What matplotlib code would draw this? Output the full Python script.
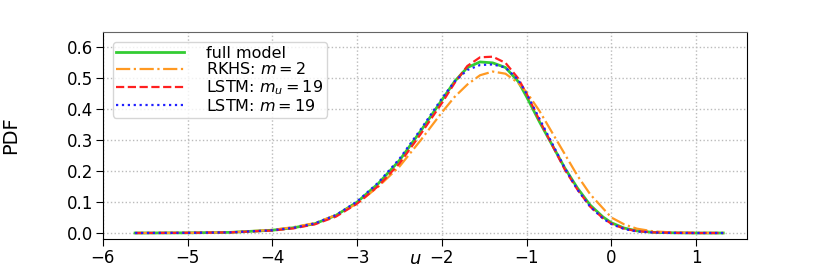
import numpy as np
import matplotlib.pyplot as plt

# grid of u values
u = [-5.62, -5.0, -4.5, -4.0, -3.75, -3.5, -3.25, -3.0, -2.75, -2.5, -2.25,
     -2.0, -1.85, -1.7, -1.55, -1.4, -1.25, -1.1, -1.0, -0.85, -0.7, -0.55,
     -0.4, -0.25, -0.1, 0.0, 0.15, 0.3, 0.5, 0.75, 1.0, 1.32]

pdf_full = [0.0, 0.0005, 0.002, 0.009, 0.017, 0.030, 0.057, 0.100, 0.160, 0.235, 0.330,
            0.430, 0.490, 0.535, 0.553, 0.550, 0.535, 0.490, 0.440, 0.360, 0.285, 0.210,
            0.145, 0.090, 0.052, 0.033, 0.016, 0.007, 0.002, 0.0005, 0.0, 0.0]

pdf_rkhs = [0.0, 0.0005, 0.002, 0.010, 0.019, 0.032, 0.058, 0.095, 0.150, 0.215, 0.300,
            0.390, 0.440, 0.480, 0.510, 0.522, 0.515, 0.485, 0.455, 0.395, 0.325, 0.255,
            0.185, 0.125, 0.080, 0.050, 0.028, 0.014, 0.005, 0.0015, 0.0005, 0.0]

pdf_lstm_mu = [0.0, 0.0005, 0.002, 0.008, 0.015, 0.028, 0.053, 0.095, 0.152, 0.225, 0.320,
               0.420, 0.485, 0.540, 0.568, 0.570, 0.550, 0.500, 0.450, 0.365, 0.285, 0.205,
               0.140, 0.085, 0.048, 0.030, 0.014, 0.006, 0.002, 0.0005, 0.0, 0.0]

pdf_lstm_m = [0.0, 0.0005, 0.002, 0.009, 0.017, 0.031, 0.058, 0.102, 0.163, 0.240, 0.335,
              0.435, 0.490, 0.527, 0.543, 0.545, 0.535, 0.495, 0.450, 0.370, 0.290, 0.210,
              0.140, 0.085, 0.047, 0.029, 0.013, 0.005, 0.0015, 0.0003, 0.0, 0.0]

fig = plt.figure(figsize=(8.3, 2.73), dpi=100)
ax = fig.add_axes([0.124, 0.125, 0.776, 0.758])

ax.plot(u, pdf_full, color="#33cc33", lw=2.0, label="full model")
ax.plot(u, pdf_rkhs, color="#ff9922", lw=1.6, ls="-.", label="RKHS: $m = 2$")
ax.plot(u, pdf_lstm_mu, color="#ff2020", lw=1.6, ls="--", label="LSTM: $m_u = 19$")
ax.plot(u, pdf_lstm_m, color="#2020ff", lw=1.6, ls=":", label="LSTM: $m = 19$")

ax.set_xlim(-6, 1.6)
ax.set_ylim(-0.019, 0.65)
ax.set_xticks([-6, -5, -4, -3, -2, -1, 0, 1])
ax.set_yticks([0.0, 0.1, 0.2, 0.3, 0.4, 0.5, 0.6])
ax.grid(True, ls=":", color="#bbbbbb", lw=1.0)
ax.tick_params(labelsize=12, length=5, pad=2)
ax.set_xlabel("$u$", fontsize=13)
ax.xaxis.set_label_coords(0.485, -0.055)
ax.set_ylabel("PDF", fontsize=14)
ax.yaxis.set_label_coords(-0.128, 0.5)
ax.spines["top"].set_color("#666666")

ax.legend(loc="upper left", fontsize=11.5, handlelength=4.2, labelspacing=0.05,
          borderpad=0.25, handletextpad=1.4, borderaxespad=0.6)

fig.savefig("out.png", dpi=100)
